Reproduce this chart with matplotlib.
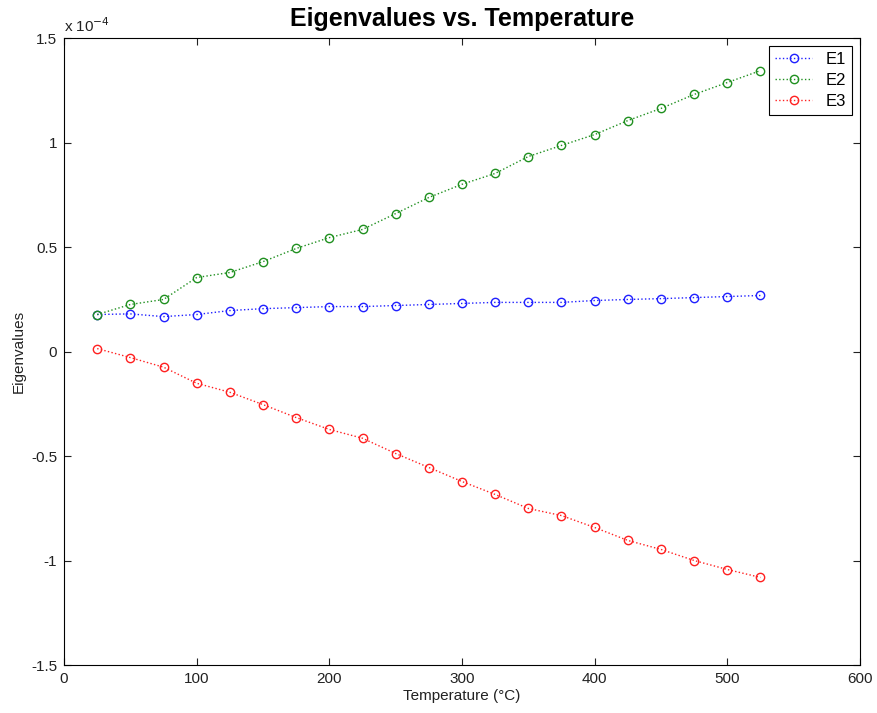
import numpy as np
import matplotlib
matplotlib.use("Agg")
import matplotlib.pyplot as plt
from matplotlib.ticker import FuncFormatter

plt.rcParams['font.family'] = ['Liberation Sans', 'DejaVu Sans']

# temperatures (deg C) and eigenvalues
temp = [25, 50, 75, 100, 125, 150, 175, 200, 225, 250, 275,
        300, 325, 350, 375, 400, 425, 450, 475, 500, 525]
e1 = [0.177, 0.180, 0.167, 0.177, 0.196, 0.205, 0.210, 0.215, 0.215, 0.220, 0.225,
      0.230, 0.235, 0.235, 0.235, 0.244, 0.249, 0.253, 0.258, 0.263, 0.268]
e2 = [0.177, 0.225, 0.249, 0.354, 0.378, 0.430, 0.493, 0.545, 0.584, 0.660, 0.737,
      0.800, 0.852, 0.933, 0.986, 1.038, 1.105, 1.163, 1.230, 1.287, 1.344]
e3 = [0.014, -0.029, -0.075, -0.152, -0.195, -0.254, -0.316, -0.373, -0.415, -0.488, -0.555,
      -0.622, -0.684, -0.751, -0.785, -0.842, -0.904, -0.947, -1.000, -1.043, -1.081]
scale = 1e-4
e1 = np.array(e1) * scale
e2 = np.array(e2) * scale
e3 = np.array(e3) * scale

fig = plt.figure(figsize=(8.77, 7.13), dpi=100)
ax = fig.add_axes([0.073, 0.0673, 0.9076, 0.8794])

ax.plot(temp, e1, ':o', color='#2020ff', mfc='none', ms=6, lw=1, mew=1, label='E1')
ax.plot(temp, e2, ':o', color='#209020', mfc='none', ms=6, lw=1, mew=1, label='E2')
ax.plot(temp, e3, ':o', color='#ff2020', mfc='none', ms=6, lw=1, mew=1, label='E3')

ax.set_xlim(0, 600)
ax.set_ylim(-1.5e-4, 1.5e-4)
ax.set_xticks(np.arange(0, 601, 100))
ax.set_yticks(np.arange(-1.5, 1.51, 0.5) * scale)
ax.yaxis.set_major_formatter(FuncFormatter(lambda v, p: '%g' % round(v / scale, 2)))
ax.tick_params(direction='in', top=True, right=True, labelsize=11, length=5, pad=5,
               colors='#222222')
for s in ax.spines.values():
    s.set_linewidth(0.8)

ax.set_xlabel('Temperature (°C)', fontsize=11, labelpad=2, color='#222222')
ax.set_ylabel('Eigenvalues', fontsize=11, labelpad=4, color='#222222')
ax.set_title('Eigenvalues vs. Temperature', fontsize=18, fontweight='bold', pad=9)
ax.text(0.0, 1.004, r'x 10$^{\mathsf{-4}}$', transform=ax.transAxes, fontsize=11,
        ha='left', va='bottom', color='#222222')

leg = ax.legend(loc='upper right', fontsize=12, fancybox=False, edgecolor='black',
                framealpha=1, handlelength=2.2, borderaxespad=0.5, labelspacing=0.35,
                borderpad=0.35)
leg.get_frame().set_linewidth(0.8)

fig.savefig('out.png', dpi=100)
